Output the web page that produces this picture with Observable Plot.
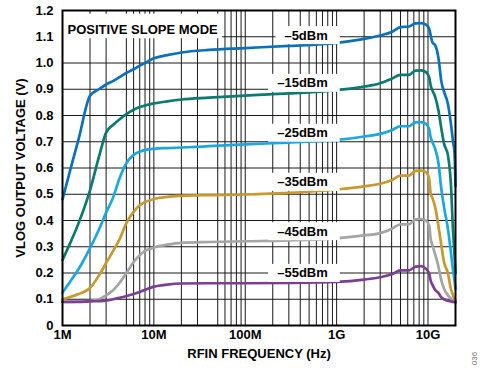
<!DOCTYPE html>
<html><head><meta charset="utf-8">
<script src="https://cdn.jsdelivr.net/npm/d3@7"></script>
<script src="https://cdn.jsdelivr.net/npm/@observablehq/plot@0.6"></script>
<style>
body{margin:0;background:#fff;}
#chart{width:488px;height:370px;}
</style></head><body><div id="chart"></div>
<script>
// Frequencies (Hz) shared by every series
const freqs = [1e6, 1.2e6, 1.5e6, 2e6, 2.5e6, 3e6, 3.6e6, 4.2e6, 5e6, 6e6, 7e6, 8e6, 1e7, 1.4e7, 2e7, 4e7, 1e8, 3e8, 1e9, 2e9, 3e9, 4e9, 5e9, 6.2e9, 7.3e9, 8.4e9, 9.5e9, 1.03e10, 1.07e10, 1.12e10, 1.2e10, 1.3e10, 1.4e10, 1.5e10, 1.65e10, 1.78e10, 1.88e10, 1.95e10, 2e10];

const vMinus5  = [0.48, 0.585, 0.71, 0.875, 0.90, 0.918, 0.932, 0.946, 0.962, 0.976, 0.99, 1.0, 1.018, 1.03, 1.04, 1.05, 1.057, 1.065, 1.077, 1.092, 1.105, 1.118, 1.137, 1.139, 1.151, 1.152, 1.146, 1.13, 1.105, 1.078, 1.067, 1.02, 0.93, 0.89, 0.845, 0.77, 0.70, 0.66, 0.53];
const vMinus15 = [0.25, 0.31, 0.39, 0.515, 0.641, 0.735, 0.765, 0.785, 0.805, 0.822, 0.832, 0.838, 0.846, 0.854, 0.861, 0.868, 0.876, 0.884, 0.897, 0.91, 0.923, 0.94, 0.955, 0.955, 0.971, 0.972, 0.965, 0.946, 0.914, 0.895, 0.87, 0.82, 0.75, 0.692, 0.65, 0.54, 0.36, 0.27, 0.2];
const vMinus25 = [0.125, 0.165, 0.215, 0.295, 0.365, 0.43, 0.49, 0.56, 0.618, 0.65, 0.662, 0.668, 0.673, 0.676, 0.678, 0.683, 0.69, 0.697, 0.707, 0.72, 0.73, 0.744, 0.759, 0.759, 0.774, 0.775, 0.768, 0.749, 0.717, 0.698, 0.672, 0.62, 0.52, 0.45, 0.37, 0.28, 0.21, 0.17, 0.14];
const vMinus35 = [0.10, 0.108, 0.12, 0.143, 0.19, 0.238, 0.285, 0.328, 0.39, 0.433, 0.458, 0.47, 0.482, 0.49, 0.494, 0.497, 0.499, 0.505, 0.518, 0.53, 0.54, 0.553, 0.571, 0.571, 0.589, 0.59, 0.584, 0.559, 0.502, 0.485, 0.45, 0.38, 0.305, 0.241, 0.2, 0.14, 0.115, 0.1, 0.095];
const vMinus45 = [0.09, 0.09, 0.091, 0.093, 0.1, 0.115, 0.135, 0.162, 0.2, 0.242, 0.268, 0.284, 0.297, 0.308, 0.315, 0.318, 0.321, 0.324, 0.332, 0.343, 0.352, 0.368, 0.385, 0.386, 0.404, 0.405, 0.40, 0.381, 0.33, 0.305, 0.27, 0.225, 0.172, 0.14, 0.115, 0.102, 0.095, 0.09, 0.089];
const vMinus55 = [0.09, 0.09, 0.09, 0.092, 0.093, 0.095, 0.1, 0.105, 0.112, 0.12, 0.128, 0.136, 0.148, 0.156, 0.16, 0.161, 0.161, 0.162, 0.166, 0.175, 0.184, 0.195, 0.21, 0.21, 0.224, 0.226, 0.216, 0.197, 0.171, 0.155, 0.135, 0.124, 0.107, 0.1, 0.094, 0.092, 0.09, 0.089, 0.089];

const seriesNames  = ["–5dBm", "–15dBm", "–25dBm", "–35dBm", "–45dBm", "–55dBm"];
const seriesColors = ["#0b72b9", "#0b7a70", "#1ba8e0", "#c8992e", "#a5a5a5", "#7a3e93"];
const seriesValues = [vMinus5, vMinus15, vMinus25, vMinus35, vMinus45, vMinus55];

const labelFreq = 8e8;
const labelVolts = [1.105, 0.923, 0.733, 0.546, 0.358, 0.199];

const gridFreqs = [2e6, 3e6, 5e6, 6e6, 7e6, 8e6, 9e6, 1e7, 2e7, 3e7, 5e7, 6e7, 7e7, 8e7, 9e7,
  1e8, 2e8, 3e8, 4e8, 5e8, 6e8, 7e8, 8e8, 9e8, 1e9, 2e9, 3e9, 4e9, 5e9, 6e9, 7e9, 8e9, 9e9, 1e10];
const gridVolts = [0.1, 0.2, 0.3, 0.4, 0.5, 0.6, 0.7, 0.8, 0.9, 1.0, 1.1];

const xTicks = [1e6, 1e7, 1e8, 1e9, 1e10];
const xTickLabels = ["1M", "10M", "100M", "1G", "10G"];
const yTicks = [0, 0.1, 0.2, 0.3, 0.4, 0.5, 0.6, 0.7, 0.8, 0.9, 1.0, 1.1, 1.2];

const titleText = "POSITIVE SLOPE MODE";
const xTitle = "RFIN FREQUENCY (Hz)";
const yTitle = "VLOG OUTPUT VOLTAGE (V)";
const figId = "036";

const rows = [];
seriesValues.forEach((vals, i) => vals.forEach((v, j) => rows.push({f: freqs[j], v, s: seriesNames[i]})));
const labelRows = seriesNames.map((s, i) => ({f: labelFreq, v: labelVolts[i], t: s}));

const FONT = '"Liberation Sans", Arial, Helvetica, sans-serif';

const plot = Plot.plot({
  width: 488, height: 370,
  marginLeft: 62, marginRight: 33, marginTop: 10, marginBottom: 45,
  style: {fontFamily: FONT, fontSize: "13px", fontWeight: "bold", color: "#000", background: "#fff"},
  x: {type: "log", domain: [1e6, 2e10]},
  y: {domain: [0, 1.2]},
  color: {domain: seriesNames, range: seriesColors},
  marks: [
    Plot.ruleX(gridFreqs, {stroke: "#1a1a1a", strokeWidth: 1}),
    Plot.ruleY(gridVolts, {stroke: "#1a1a1a", strokeWidth: 1}),
    Plot.line(rows, {x: "f", y: "v", z: "s", stroke: "s", strokeWidth: 2.7, curve: "monotone-x"}),
    Plot.text(labelRows, {x: "f", y: "v", text: "t", textAnchor: "end", fill: "#000", fontSize: 13}),
    Plot.text([titleText], {frameAnchor: "top-left", dx: 5, dy: 14, textAnchor: "start", fill: "#000", fontSize: 13}),
    Plot.text([xTitle], {frameAnchor: "bottom", dy: 32, textAnchor: "middle", fill: "#000", fontSize: 13}),
    Plot.text([yTitle], {frameAnchor: "left", dx: -42, rotate: -90, textAnchor: "middle", fill: "#000", fontSize: 13}),
    Plot.text([figId], {frameAnchor: "bottom-right", dx: 21, dy: 33, rotate: -90, textAnchor: "middle", fill: "#777", fontSize: 8, fontWeight: "normal"}),
    Plot.axisX(xTicks, {tickFormat: d => xTickLabels[xTicks.indexOf(d)], tickSize: 0, tickPadding: 4, fontSize: 13, label: null}),
    Plot.axisY(yTicks, {tickFormat: d => d === 0 ? "0" : d.toFixed(1), tickSize: 0, tickPadding: 9, fontSize: 13, label: null}),
    Plot.frame({stroke: "#000", strokeWidth: 2})
  ]
});
document.getElementById("chart").appendChild(plot);

// White backgrounds behind the in-plot labels
const pads = {};
seriesNames.forEach(s => pads[s] = [9, 1.5, 12, 1.5]);
d3.select(plot).selectAll("text").each(function() {
  const t = this.textContent;
  if (pads[t] || t === titleText) {
    const b = this.getBBox();
    let x0, y0, x1, y1;
    if (t === titleText) {
      x0 = b.x - 5; x1 = b.x + b.width + 4; y0 = b.y - 8; y1 = b.y + b.height + 1.5;
    } else {
      const p = pads[t];
      x0 = b.x - p[0]; x1 = b.x + b.width + p[2]; y0 = b.y - p[1]; y1 = b.y + b.height + p[3];
    }
    const r = document.createElementNS("http://www.w3.org/2000/svg", "rect");
    r.setAttribute("x", x0); r.setAttribute("y", y0);
    r.setAttribute("width", x1 - x0); r.setAttribute("height", y1 - y0);
    r.setAttribute("fill", "#fff");
    const tr = this.getAttribute("transform");
    if (tr) r.setAttribute("transform", tr);
    this.parentNode.insertBefore(r, this);
  }
});
</script></body></html>
